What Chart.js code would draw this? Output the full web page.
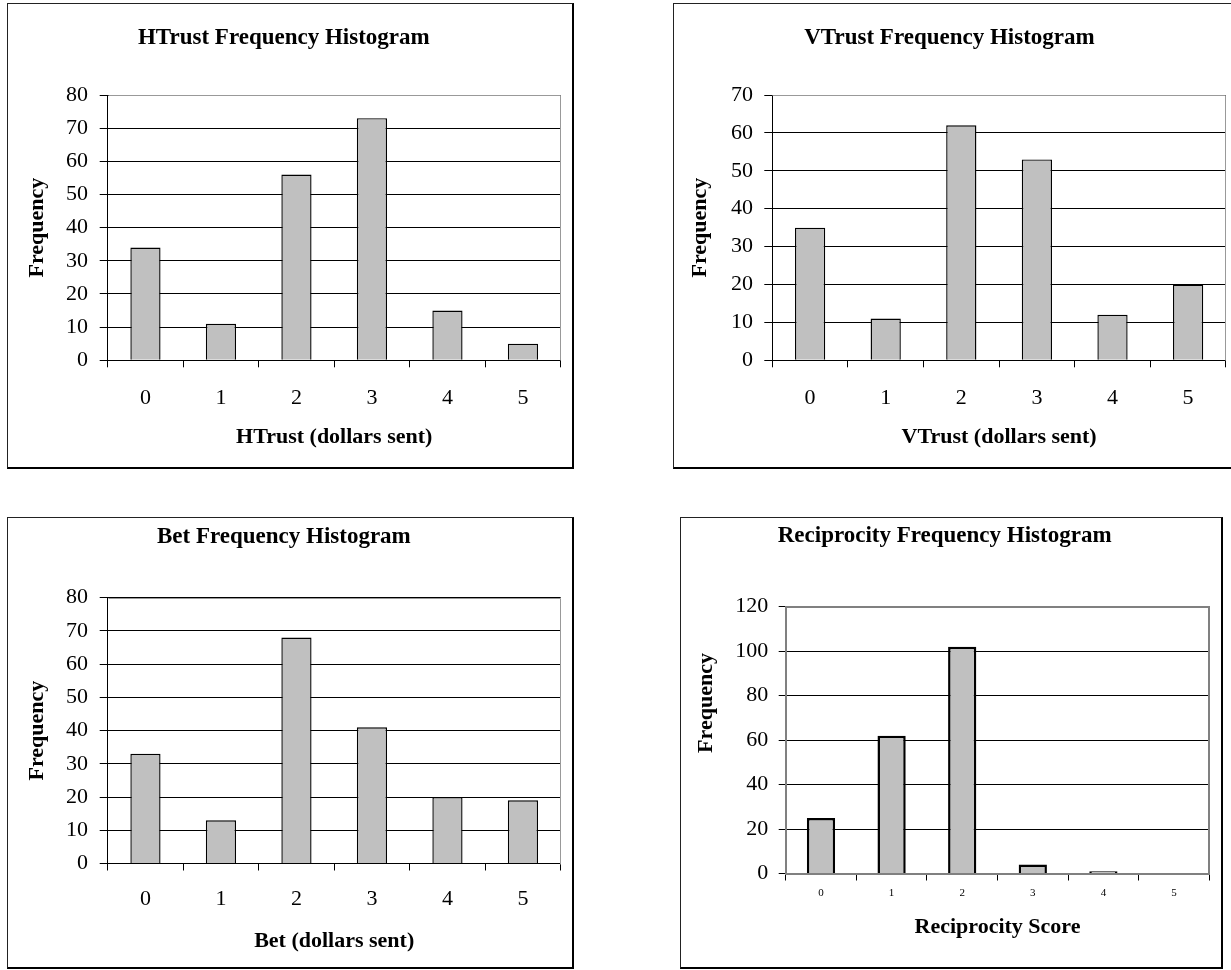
<!DOCTYPE html>
<html>
<head>
<meta charset="utf-8">
<script src="https://cdn.jsdelivr.net/npm/chart.js@4.4.0/dist/chart.umd.min.js"></script>
<style>
  html, body { margin: 0; padding: 0; background: #fff; width: 1231px; height: 970px; overflow: hidden; }
  .box { position: absolute; }
  .box canvas { position: absolute; left: 0; top: 0; }
  .frame { position: absolute; left: 0; top: 0; right: 0; bottom: 0; box-sizing: border-box;
           border: 1px solid #222; border-right: 2px solid #000; border-bottom: 2px solid #000; pointer-events: none; }
</style>
</head>
<body>
<div class="box" style="left:7px;top:3px;width:567px;height:466px"><canvas id="chartH" width="567" height="466"></canvas><div class="frame"></div></div>
<div class="box" style="left:673px;top:3px;width:567px;height:466px"><canvas id="chartV" width="567" height="466"></canvas><div class="frame"></div></div>
<div class="box" style="left:7px;top:517px;width:567px;height:452px"><canvas id="chartB" width="567" height="452"></canvas><div class="frame"></div></div>
<div class="box" style="left:680px;top:517px;width:543px;height:452px"><canvas id="chartR" width="543" height="452"></canvas><div class="frame"></div></div>

<script>
// data
var categories = ['0', '1', '2', '3', '4', '5'];
var htrustCounts = [34, 11, 56, 73, 15, 5];
var vtrustCounts = [35, 11, 62, 53, 12, 20];
var betCounts = [33, 13, 68, 41, 20, 19];
var reciprocityCounts = [25, 62, 102, 4, 1, 0];

// y axis ranges: [max, step]
var htrustAxis = [80, 10];
var vtrustAxis = [70, 10];
var betAxis = [80, 10];
var reciprocityAxis = [120, 20];

var serif = '"Liberation Serif", "Times New Roman", serif';
Chart.defaults.font.family = serif;
Chart.defaults.color = '#000';

// gray edge round the plot area (top + right, or all round)
var plotBorder = {
    id: 'plotBorder',
    afterDraw: function(chart, args, opts) {
        var a = chart.chartArea, ctx = chart.ctx;
        ctx.save();
        ctx.strokeStyle = opts.color;
        ctx.lineWidth = opts.width;
        var off = opts.width % 2 ? 0.5 : 0;
        var l = Math.round(a.left) + off, r = Math.round(a.right) - off;
        var t = Math.round(a.top) + off, b = Math.round(a.bottom) + off;
        ctx.beginPath();
        if (opts.full) {
            ctx.rect(l, t, r - l, b - t);
        } else {
            ctx.moveTo(l, t);
            ctx.lineTo(r, t);
            ctx.lineTo(r, b);
        }
        ctx.stroke();
        ctx.restore();
    }
};

// axis title that sits off-centre from its axis
var freeYTitle = {
    id: 'freeYTitle',
    afterDraw: function(chart, args, opts) {
        if (!opts.text) return;
        var ctx = chart.ctx;
        ctx.save();
        ctx.translate(opts.x, opts.y);
        ctx.rotate(-Math.PI / 2);
        ctx.font = 'bold 22px ' + serif;
        ctx.textAlign = 'center';
        ctx.textBaseline = 'middle';
        ctx.fillStyle = '#000';
        ctx.fillText(opts.text, 0, 0);
        ctx.restore();
    }
};

function makeHistogram(id, counts, axis, lay) {
    return new Chart(document.getElementById(id), {
        type: 'bar',
        data: {
            labels: categories,
            datasets: [{
                data: counts,
                backgroundColor: '#c0c0c0',
                borderColor: '#000',
                borderWidth: lay.barBorder,
                barPercentage: 0.4,
                categoryPercentage: 1
            }]
        },
        plugins: [plotBorder, freeYTitle],
        options: {
            responsive: false,
            animation: false,
            events: [],
            layout: { padding: { left: 0, right: lay.padRight, top: 0, bottom: 0 } },
            plugins: {
                legend: { display: false },
                tooltip: { enabled: false },
                title: {
                    display: true,
                    text: lay.title,
                    color: '#000',
                    font: { size: 23, weight: 'bold' },
                    padding: { top: lay.titleTop, bottom: lay.titleBottom }
                },
                plotBorder: { color: lay.edgeColor, width: lay.edgeWidth, full: lay.edgeFull },
                freeYTitle: lay.freeTitle || {}
            },
            scales: {
                x: {
                    grid: { drawOnChartArea: false, drawTicks: true, tickLength: 7, color: '#000', offset: true },
                    border: { color: '#000', width: 1 },
                    ticks: { color: '#000', font: { size: lay.xTickSize }, padding: lay.xTickPad, maxRotation: 0, autoSkip: false },
                    title: {
                        display: true,
                        text: lay.xTitle,
                        color: '#000',
                        font: { size: 22, weight: 'bold' },
                        padding: { top: 0, bottom: lay.xTitleBottom }
                    },
                    afterFit: function(s) { s.height = lay.xHeight; }
                },
                y: {
                    min: 0,
                    max: axis[0],
                    ticks: { stepSize: axis[1], color: '#000', font: { size: 22 }, padding: lay.yTickPad },
                    grid: { color: '#000', tickLength: lay.yTickLen },
                    border: { color: '#000', width: 1 },
                    title: {
                        display: !lay.freeTitle,
                        text: 'Frequency',
                        color: '#000',
                        font: { size: 22, weight: 'bold' },
                        padding: { top: lay.yTitlePad, bottom: 0 }
                    },
                    afterFit: function(s) { s.width = lay.yWidth; }
                }
            }
        }
    });
}

makeHistogram('chartH', htrustCounts, htrustAxis, {
    title: 'HTrust Frequency Histogram', xTitle: 'HTrust (dollars sent)',
    padRight: 13.3, titleTop: 21.2, titleBottom: 43.2,
    xHeight: 108.7, xTickSize: 22, xTickPad: 17.5, xTitleBottom: 18.8,
    yWidth: 100.7, yTickLen: 8, yTickPad: 11.7, yTitlePad: 17.1,
    barBorder: 1.4, edgeColor: '#999', edgeWidth: 1, edgeFull: false
});

makeHistogram('chartV', vtrustCounts, vtrustAxis, {
    title: 'VTrust Frequency Histogram', xTitle: 'VTrust (dollars sent)',
    padRight: 14.1, titleTop: 21.2, titleBottom: 43.2,
    xHeight: 108.7, xTickSize: 22, xTickPad: 17.5, xTitleBottom: 18.8,
    yWidth: 99.3, yTickLen: 8, yTickPad: 11.3, yTitlePad: 13.8,
    barBorder: 1.4, edgeColor: '#999', edgeWidth: 1, edgeFull: false
});

makeHistogram('chartB', betCounts, betAxis, {
    title: 'Bet Frequency Histogram', xTitle: 'Bet (dollars sent)',
    padRight: 13.3, titleTop: 6.2, titleBottom: 46.9,
    xHeight: 105.5, xTickSize: 22, xTickPad: 15.3, xTitleBottom: 14.8,
    yWidth: 100.7, yTickLen: 8, yTickPad: 11.7, yTitlePad: 17.1,
    barBorder: 1.4, edgeColor: '#999', edgeWidth: 1, edgeFull: false
});

makeHistogram('chartR', reciprocityCounts, reciprocityAxis, {
    title: 'Reciprocity Frequency Histogram', xTitle: 'Reciprocity Score',
    padRight: 13.7, titleTop: 5.2, titleBottom: 56.9,
    xHeight: 95.5, xTickSize: 11, xTickPad: 5.9, xTitleBottom: 28.8,
    yWidth: 105.7, yTickLen: 7, yTickPad: 10.4, yTitlePad: 13.4,
    barBorder: 2.5, edgeColor: '#808080', edgeWidth: 2, edgeFull: true,
    freeTitle: { text: 'Frequency', x: 26, y: 186 }
});
</script>
</body>
</html>
